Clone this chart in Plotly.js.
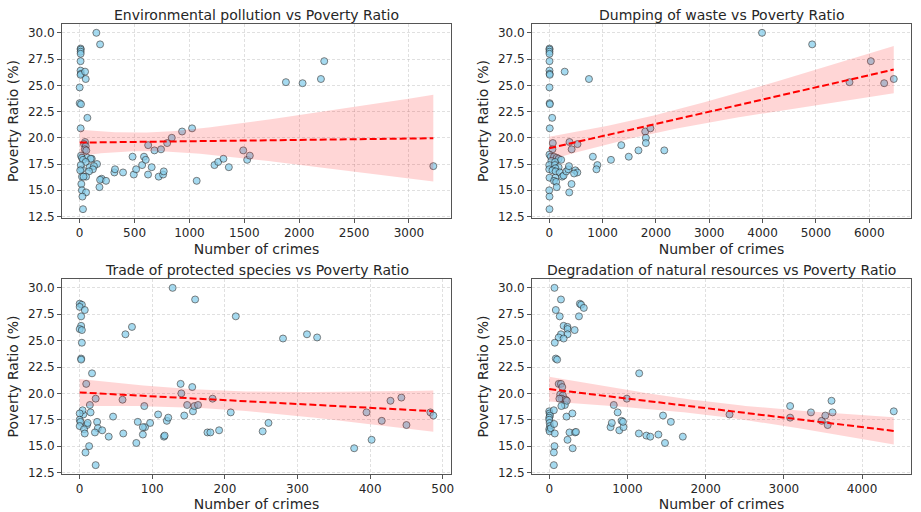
<!DOCTYPE html>
<html>
<head>
<meta charset="utf-8">
<script src="https://cdn.plot.ly/plotly-3.0.1.min.js"></script>
<style>html,body{margin:0;padding:0;background:#fff;}#chart{width:921px;height:512px;}</style>
</head>
<body>
<div id="chart"></div>
<script>
// ---- Data ----
const titles = ['Environmental pollution vs Poverty Ratio', 'Dumping of waste vs Poverty Ratio',
  'Trade of protected species vs Poverty Ratio', 'Degradation of natural resources vs Poverty Ratio'];
const xLabel = 'Number of crimes';
const yLabel = 'Poverty Ratio (%)';

const envX = [9,9,9,9,8,8,12,8,49,55,0,0,12,70,9,49,40,55,47,60,12,20,70,110,100,30,55,158,91,130,120,21,85,21,58,35,200,186,240,15,180,20,58,25,30,152,186,10,5,316,322,395,482,493,514,569,586,602,624,623,656,681,720,741,760,766,797,839,933,1024,1066,1228,1262,1310,1359,1490,1526,1550,1879,2031,2198,2228,3222];
const envY = [28.5,28.4,28.2,28.0,27.3,26.4,26.1,26.0,26.3,25.6,24.8,23.3,23.2,21.9,20.9,19.6,19.4,19.2,18.9,18.8,18.3,18.1,18.1,18.0,18.0,17.9,17.7,17.5,17.2,17.3,17.0,17.0,16.8,16.3,16.3,16.3,16.1,16.0,15.9,15.6,15.3,15.0,14.8,14.4,13.2,30.0,28.9,17.4,16.9,16.7,17.0,16.7,18.2,16.5,17.0,17.4,18.2,17.9,19.3,16.5,17.2,18.8,16.3,18.9,16.5,16.8,19.5,20.0,20.6,20.9,15.9,17.4,17.7,18.0,17.2,18.8,17.9,18.3,25.3,25.2,25.6,27.3,17.3];

const wasteX = [5,5,5,5,5,5,8,10,290,745,5,8,12,55,10,67,380,530,420,60,5,30,90,140,176,40,110,224,0,103,176,115,0,60,120,200,5,115,90,130,242,270,320,357,370,490,527,466,818,903,885,418,375,0,5,5,140,1351,1157,1491,1673,1800,1812,1812,1897,2157,3990,4930,6030,5630,6280,6460];
const wasteY = [28.5,28.4,28.2,28.0,27.3,26.4,26.1,26.0,26.3,25.6,24.8,23.3,23.2,21.9,20.9,19.5,19.6,19.4,18.9,18.9,18.4,18.2,18.2,18.1,18.0,17.8,17.7,17.9,17.4,17.4,17.2,17.1,17.0,16.9,16.8,16.7,16.2,16.2,15.9,15.8,16.3,16.4,16.8,17.0,17.3,16.9,16.7,16.6,18.2,17.4,17.0,15.6,14.8,15.0,14.4,13.2,15.3,19.3,17.9,18.2,18.8,20.6,20.0,19.5,20.9,18.8,30.0,28.9,27.3,25.3,25.2,25.6];

const tradeX = [128,159,215,280,313,327,72,63,17,0,3,0,7,2,2,0,3,3,2,2,9,22,14,15,5,4,0,0,1,0,10,11,6,7,24,25,31,21,13,8,22,40,46,60,59,78,80,89,87,90,87,97,108,116,117,120,122,139,140,155,148,144,156,158,163,183,176,180,192,208,252,260,378,395,402,416,428,443,450,483,487];
const tradeY = [30.0,28.9,27.3,25.2,25.6,25.3,26.3,25.6,21.9,28.5,28.4,28.2,27.9,27.3,26.4,26.1,26.0,24.8,23.3,23.2,20.9,19.5,18.9,18.2,18.0,18.4,18.1,17.5,17.3,16.9,17.0,17.2,16.6,16.2,17.3,16.7,16.5,16.3,15.0,14.4,13.2,15.9,17.8,16.2,19.4,15.3,17.3,18.8,16.1,16.8,16.8,17.2,18.0,15.9,16.0,17.4,17.7,20.9,20.0,20.6,18.9,17.9,18.3,18.8,18.9,19.5,16.3,16.3,16.5,18.2,16.4,17.2,14.8,18.2,15.6,17.4,19.3,19.6,17.0,18.2,17.9];

const degX = [67,150,84,134,392,408,442,380,184,234,234,234,325,150,121,184,71,84,101,121,150,167,140,175,160,210,130,200,155,225,0,5,10,0,0,5,10,0,5,20,59,71,221,296,259,330,342,234,300,67,59,59,63,825,875,784,800,896,925,950,943,992,1150,1146,1242,1292,1396,1455,1480,1555,1708,2305,3080,3080,3346,3484,3530,3560,3609,3622,4405];
const degY = [30.0,28.9,27.9,27.3,28.5,28.4,28.1,27.3,26.4,26.3,26.1,25.6,26.0,25.6,25.3,25.2,24.8,23.3,23.2,20.9,20.9,20.6,19.9,19.8,19.5,19.4,19.5,18.9,18.8,19.3,18.3,18.1,17.9,17.7,17.5,17.2,16.9,16.6,16.4,16.7,18.4,16.2,17.8,18.1,16.3,16.3,16.35,15.6,14.8,15.0,14.4,13.2,17.1,18.9,18.2,16.8,17.2,16.5,17.4,16.8,17.3,19.5,21.9,16.2,16.0,15.9,16.1,17.9,15.3,17.3,15.9,18.0,18.8,17.7,18.2,17.4,17.9,17.0,19.3,18.2,18.3];

const xDticks = [500, 1000, 100, 1000];

// ---- Helpers: OLS fit with a robust (HC1) 95% confidence band ----
function fit(x, y) {
  const n = x.length;
  const mx = x.reduce((a,b)=>a+b,0)/n, my = y.reduce((a,b)=>a+b,0)/n;
  let sxx=0, sxy=0;
  for (let i=0;i<n;i++){ sxx+=(x[i]-mx)**2; sxy+=(x[i]-mx)*(y[i]-my); }
  const b = sxy/sxx, a = my - b*mx;
  let m00=0, m01=0, m11=0;
  for (let i=0;i<n;i++){
    const e2 = (y[i]-a-b*x[i])**2, d = x[i]-mx;
    m00 += e2; m01 += e2*d; m11 += e2*d*d;
  }
  const k = n/(n-2);
  const c00 = k*m00/(n*n), c01 = k*m01/(n*sxx), c11 = k*m11/(sxx*sxx);
  const lo = Math.min(...x), hi = Math.max(...x);
  const xs=[], yh=[], up=[], dn=[];
  for (let j=0;j<=100;j++){
    const xv = lo + (hi-lo)*j/100;
    const yv = a + b*xv, d0 = xv-mx;
    const se = Math.sqrt(c00 + 2*d0*c01 + d0*d0*c11);
    xs.push(xv); yh.push(yv); up.push(yv+1.96*se); dn.push(yv-1.96*se);
  }
  return {xs, yh, up, dn};
}
function pad(arr){ const lo=Math.min(...arr), hi=Math.max(...arr), d=(hi-lo)*0.05; return [lo-d, hi+d]; }

const sets = [[envX,envY],[wasteX,wasteY],[tradeX,tradeY],[degX,degY]];
const W=921, H=512;
const boxes = [ // pixel boxes [left,right,top,bottom]
  [62,451,24,218],[532,911,24,218],[62,451,279,474],[532,911,279,474]];

const font = 'DejaVu Sans, sans-serif';
const txt = '#262626';
const traces = [];
const layout = {
  width: W, height: H, margin:{l:0,r:0,t:0,b:0},
  paper_bgcolor:'#fff', plot_bgcolor:'#fff', showlegend:false,
  font:{family:font, color:txt}, annotations:[]
};

sets.forEach(([x,y], i) => {
  const ax = i===0 ? '' : String(i+1);
  const r = fit(x,y);
  traces.push({type:'scatter', mode:'markers', x:x, y:y, xaxis:'x'+ax, yaxis:'y'+ax,
    marker:{size:7, color:'skyblue', opacity:0.75, line:{color:'#2b2b2b', width:0.8}}, hoverinfo:'skip'});
  traces.push({type:'scatter', mode:'lines', x:r.xs.concat(r.xs.slice().reverse()), y:r.up.concat(r.dn.slice().reverse()),
    xaxis:'x'+ax, yaxis:'y'+ax, fill:'toself', fillcolor:'rgba(255,0,0,0.16)', line:{width:0}, hoverinfo:'skip'});
  traces.push({type:'scatter', mode:'lines', x:r.xs, y:r.yh, xaxis:'x'+ax, yaxis:'y'+ax,
    line:{color:'red', width:2, dash:'7px,3px'}, hoverinfo:'skip'});
  const b = boxes[i];
  const common = {showline:true, mirror:true, linecolor:'#555', linewidth:1, ticks:'outside', ticklen:4,
    tickcolor:'#555', showgrid:true, gridcolor:'rgba(190,190,190,0.6)', griddash:'3px,2px', gridwidth:0.8,
    zeroline:false, tickfont:{size:12, color:txt, family:font}, automargin:false};
  layout['xaxis'+ax] = Object.assign({}, common, {
    domain:[b[0]/W, b[1]/W], anchor:'y'+ax, range:pad(x), dtick:xDticks[i], tick0:0,
    title:{text:xLabel, font:{size:14, color:txt, family:font}, standoff:4}});
  layout['yaxis'+ax] = Object.assign({}, common, {
    domain:[1-b[3]/H, 1-b[2]/H], anchor:'x'+ax, range:pad(y), dtick:2.5, tick0:0, tickformat:'.1f',
    title:{text:yLabel, font:{size:14, color:txt, family:font}, standoff:5}});
  layout.annotations.push({text:titles[i], xref:'paper', yref:'paper', x:(b[0]+b[1])/2/W, y:1-(b[2]-9)/H,
    xanchor:'center', yanchor:'middle', showarrow:false, font:{size:14, color:txt, family:font}});
});

Plotly.newPlot('chart', traces, layout, {staticPlot:true, displayModeBar:false});
</script>
</body>
</html>
